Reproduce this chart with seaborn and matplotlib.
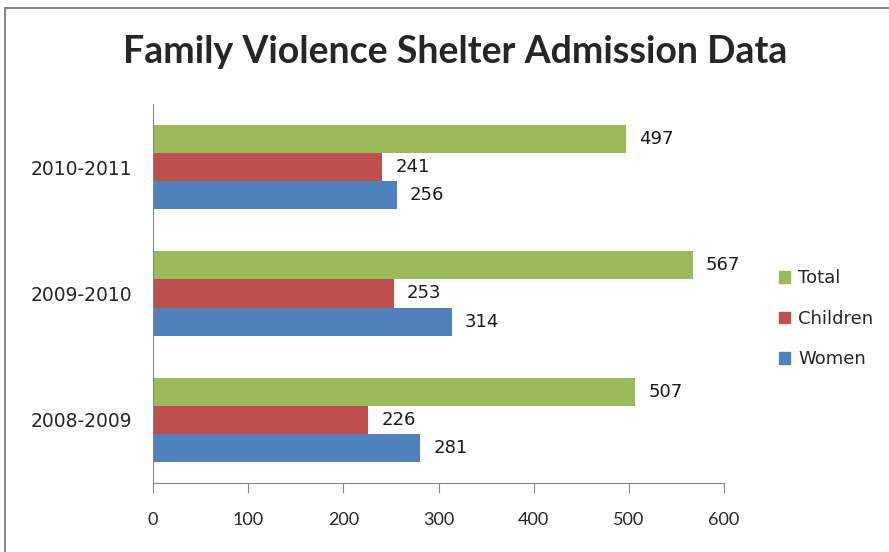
import matplotlib
matplotlib.use("Agg")
import matplotlib.pyplot as plt
import seaborn as sns
import pandas as pd
from matplotlib.patches import Rectangle
from matplotlib.lines import Line2D

years = ["2008-2009", "2009-2010", "2010-2011"]
women = [281, 314, 256]
children = [226, 253, 241]
total = [507, 567, 497]
series = ["Total", "Children", "Women"]
colors = {"Total": "#9BBB59", "Children": "#C0504D", "Women": "#4F81BD"}
xticks = [0, 100, 200, 300, 400, 500, 600]

rows = []
for i, y in enumerate(years):
    rows.append({"Year": y, "Series": "Women", "Value": women[i]})
    rows.append({"Year": y, "Series": "Children", "Value": children[i]})
    rows.append({"Year": y, "Series": "Total", "Value": total[i]})
df = pd.DataFrame(rows)

sns.set_style("white")
plt.rcParams["font.family"] = ["DejaVu Sans"]

fig = plt.figure(figsize=(8.89, 5.52), dpi=100)
ax = fig.add_axes([153/889, 1-483/552, (724-153)/889, (483-104)/552])

sns.barplot(data=df, y="Year", x="Value", hue="Series", orient="h",
            order=years[::-1], hue_order=series, palette=colors,
            width=0.667, gap=0, saturation=1, linewidth=0, ax=ax, legend=False)

for cont in ax.containers:
    ax.bar_label(cont, padding=9.5, fontsize=13, color="#1a1a1a")

ax.set_xlim(0, 600)
ax.set_ylim(2.5, -0.5)
ax.set_xticks(xticks)
ax.set_xticklabels([str(t) for t in xticks], fontsize=13, family=["Lato", "DejaVu Sans"])
ax.tick_params(axis="x", length=7, width=0.8, color="#888888", pad=14, direction="out", bottom=True)
ax.tick_params(axis="y", length=0, pad=15, labelsize=13.5)
ax.set_xlabel("")
ax.set_ylabel("")
for s in ["top", "right"]:
    ax.spines[s].set_visible(False)
for s in ["left", "bottom"]:
    ax.spines[s].set_color("#888888")
    ax.spines[s].set_linewidth(0.8)

handles = [Rectangle((0, 0), 1, 1, color=colors[s]) for s in series]
fig.legend(handles, series, loc="upper left", bbox_to_anchor=(763/889, 1-253/552),
           frameon=False, fontsize=13, handlelength=0.6, handleheight=0.6,
           handletextpad=0.45, labelspacing=1.25)

fig.text(455/889, 1-52/552, "Family Violence Shelter Admission Data",
         ha="center", va="center", fontsize=27, fontweight="bold", family=["Lato", "DejaVu Sans"])

fig.lines.append(Line2D([5/889, 5/889], [0, 1-8/552], transform=fig.transFigure,
                        color="#888888", linewidth=1.5))
fig.lines.append(Line2D([5/889, 1], [1-8/552, 1-8/552], transform=fig.transFigure,
                        color="#888888", linewidth=1.5))

fig.savefig("out.png", dpi=100, facecolor="white")
